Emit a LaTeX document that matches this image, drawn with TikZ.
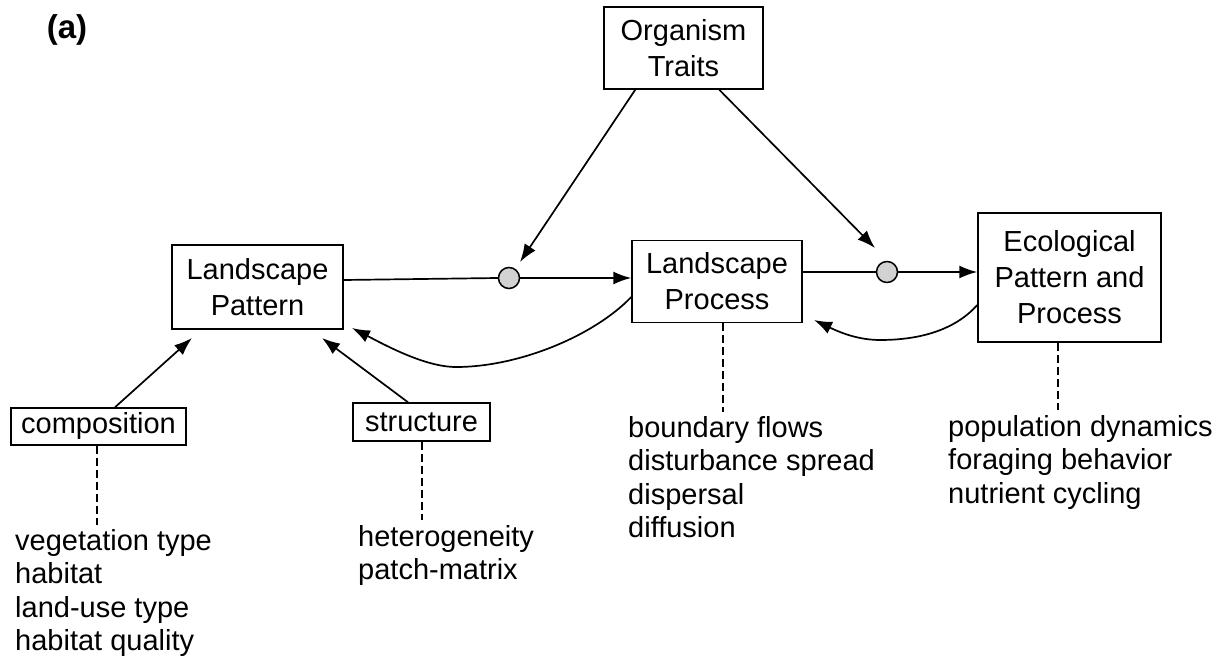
\documentclass[tikz,border=0pt]{standalone}
\usepackage{fontspec}
\setmainfont{Liberation Sans}
\usetikzlibrary{arrows.meta,calc}
\begin{document}
\begin{tikzpicture}[x=1pt,y=-1pt,
  every node/.style={font=\fontsize{29}{36}\selectfont},
  box/.style={draw,line width=1.5pt,align=center,inner sep=0pt},
  lst/.style={anchor=north west,align=left,inner sep=0pt,font=\fontsize{29}{33.5}\selectfont},
  arr/.style={line width=1.7pt,-{Latex[length=18pt,width=13pt]}},
  ln/.style={line width=1.7pt},
  dsh/.style={line width=1.4pt,dash pattern=on 8pt off 4pt},
  jn/.style={circle,draw,line width=1.5pt,fill=gray!35,minimum size=21pt,inner sep=0pt}]
\useasboundingbox (0,0) rectangle (1223,660);

\node[font=\fontsize{33}{36}\selectfont\bfseries] (lab) at (67,30) {(a)};

\node[box,minimum width=159pt,minimum height=82pt] (org) at (683.5,48) {Organism\\Traits};
\node[box,minimum width=171pt,minimum height=84pt] (lpat) at (257.5,287) {Landscape\\Pattern};
\node[box,minimum width=170pt,minimum height=82pt] (lproc) at (717,281.5) {Landscape\\Process};
\node[box,minimum width=183pt,minimum height=129pt] (eco) at (1069.5,277.5) {Ecological\\Pattern and\\Process};
\node[box,minimum width=175pt,minimum height=37pt] (comp) at (98.5,426.5) {composition};
\node[box,minimum width=137pt,minimum height=38pt] (struc) at (421.5,422) {structure};

\node[jn] (c1) at (509,278) {};
\node[jn] (c2) at (887,272) {};

\node[lst] (l1) at (15,529) {vegetation type\\habitat\\land-use type\\habitat quality};
\node[lst] (l2) at (358,525) {heterogeneity\\patch-matrix};
\node[lst] (l3) at (628,416) {boundary flows\\disturbance spread\\dispersal\\diffusion};
\node[lst] (l4) at (948,415) {population dynamics\\foraging behavior\\nutrient cycling};

% main chain
\draw[ln] (lpat.east |- 0,280) -- (c1.west);
\draw[arr] (c1.east) -- (lproc.west |- c1);
\draw[ln] (lproc.east |- c2) -- (c2.west);
\draw[arr] (c2.east) -- (eco.west |- c2);

% organism traits
\draw[arr] ($(org.south west)+(32,0)$) -- ($(c1)+(11,-16)$);
\draw[arr] ($(org.south west)+(116,0)$) -- ($(c2)+(-12,-24)$);

% feedback curves
\draw[arr] (lproc.west |- 0,297) .. controls (595,335) and (520,367) .. (456,367)
  .. controls (425,367) and (385,345) .. (352,328);
\draw[arr] (eco.west |- 0,305) .. controls (955,330) and (920,340) .. (880,340)
  .. controls (855,340) and (835,330) .. (814,320);

% components
\draw[arr] ($(comp.north)+(16.5,0)$) -- (192,338);
\draw[arr] ($(struc.north)+(-13.5,0)$) -- (322,338);

% dashed links
\coordinate (e1) at (97,525);
\coordinate (e2) at (422,520);
\coordinate (e3) at (723,412);
\coordinate (e4) at (1058,410);
\draw[dsh] (comp.south -| e1) -- (e1);
\draw[dsh] (struc.south -| e2) -- (e2);
\draw[dsh] (lproc.south -| e3) -- (e3);
\draw[dsh] (eco.south -| e4) -- (e4);
\end{tikzpicture}
\end{document}
